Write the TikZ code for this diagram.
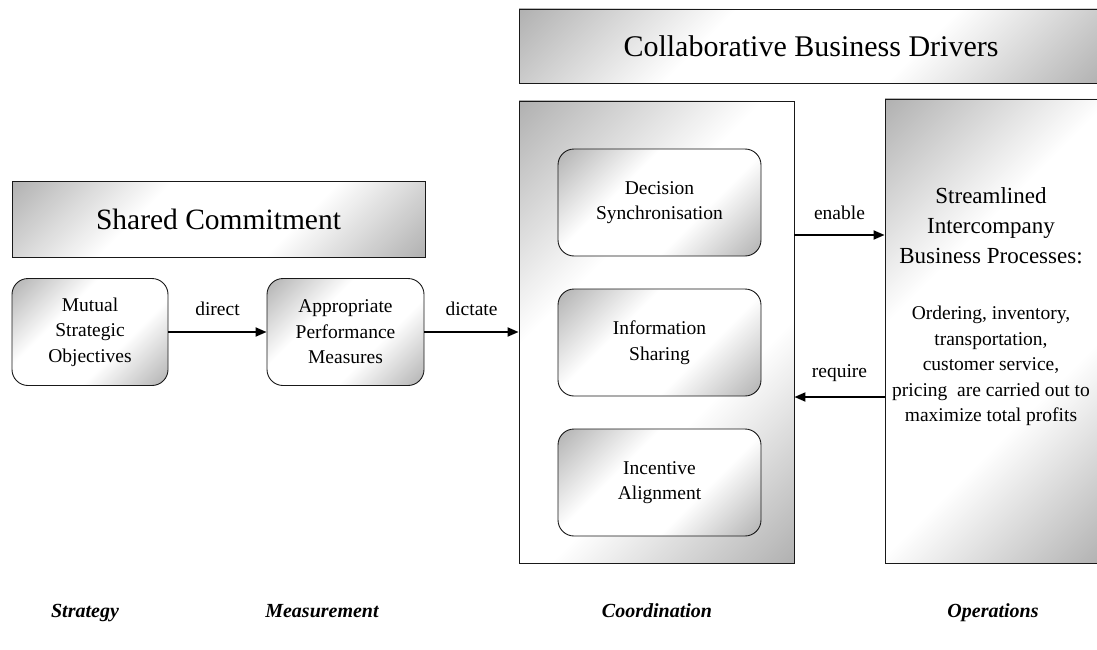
\documentclass[tikz,border=0pt]{standalone}
\usepackage{fontspec}
\setmainfont{Liberation Serif}
\usetikzlibrary{arrows.meta}
\pgfdeclareverticalshading{diagshade}{100bp}{color(0bp)=(black!40); color(12bp)=(black!34); color(38bp)=(white); color(62bp)=(white); color(88bp)=(black!34); color(100bp)=(black!40)}
\tikzset{
  gshade/.style={shading=diagshade, shading angle=45, draw=black!90, line width=0.9pt},
  bigbox/.style={gshade, rectangle, inner sep=0pt, align=center},
  rbox/.style={gshade, rectangle, rounded corners=16pt, inner sep=0pt, align=center, font=\fontsize{19.5}{25.5}\selectfont},
  conn/.style={line width=1.9pt, -{Triangle[length=11pt,width=9pt]}},
  lbl/.style={font=\fontsize{19.5}{24}\selectfont, inner sep=0pt},
  foot/.style={font=\fontsize{20}{24}\selectfont\bfseries\itshape, inner sep=0pt, anchor=base}
}
\begin{document}
\begin{tikzpicture}[x=1pt,y=-1pt]
\useasboundingbox (0,0) rectangle (1097,650);
% top boxes
\node[bigbox, minimum width=584pt, minimum height=74pt, font=\fontsize{30}{34}\selectfont] (collab) at (811,46) {Collaborative Business Drivers};
\node[bigbox, minimum width=413pt, minimum height=76pt, font=\fontsize{29.5}{34}\selectfont] (shared) at (218.5,219) {Shared Commitment};
% left chain
\node[rbox, minimum width=156pt, minimum height=107pt] (mutual) at (90,332) {Mutual\\Strategic\\Objectives};
\node[rbox, minimum width=157pt, minimum height=107pt] (approp) at (345.5,332) {Appropriate\\Performance\\Measures};
% coordination
\node[bigbox, minimum width=275pt, minimum height=462pt] (coord) at (656.5,332) {};
\node[rbox, minimum width=203pt, minimum height=107pt] (decision) at (659.5,202.5) {Decision\\Synchronisation};
\node[rbox, minimum width=203pt, minimum height=107pt] (info) at (659.5,342.5) {Information\\Sharing};
\node[rbox, minimum width=203pt, minimum height=107pt] (incent) at (659.5,482.5) {Incentive\\Alignment};
% operations
\node[bigbox, minimum width=218pt, minimum height=464pt] (stream) at (994,331) {};
\node[align=center, inner sep=0pt, font=\fontsize{23}{30}\selectfont] (streamtxt) at (991,226) {Streamlined\\Intercompany\\Business Processes:};
\node[align=center, inner sep=0pt, font=\fontsize{19.5}{25.5}\selectfont] (streamdet) at (991,366) {Ordering, inventory,\\transportation,\\customer service,\\pricing\ \ are carried out to\\maximize total profits};
% connectors
\coordinate (ey) at (0,235);
\coordinate (ry) at (0,397);
\draw[conn] (mutual.east) -- node[lbl, above=15pt] (ldirect) {direct} (approp.west);
\draw[conn] (approp.east) -- node[lbl, above=15pt] (ldictate) {dictate} (coord.west);
\draw[conn] (coord.east |- ey) -- node[lbl, above=14pt] (lenable) {enable} (stream.west |- ey);
\draw[conn] (stream.west |- ry) -- node[lbl, above=14pt] (lrequire) {require} (coord.east |- ry);
% footer
\node[foot] (fs) at (85,617) {Strategy};
\node[foot] (fm) at (322,617) {Measurement};
\node[foot] (fc) at (657,617) {Coordination};
\node[foot] (fo) at (993,617) {Operations};
\end{tikzpicture}
\end{document}
